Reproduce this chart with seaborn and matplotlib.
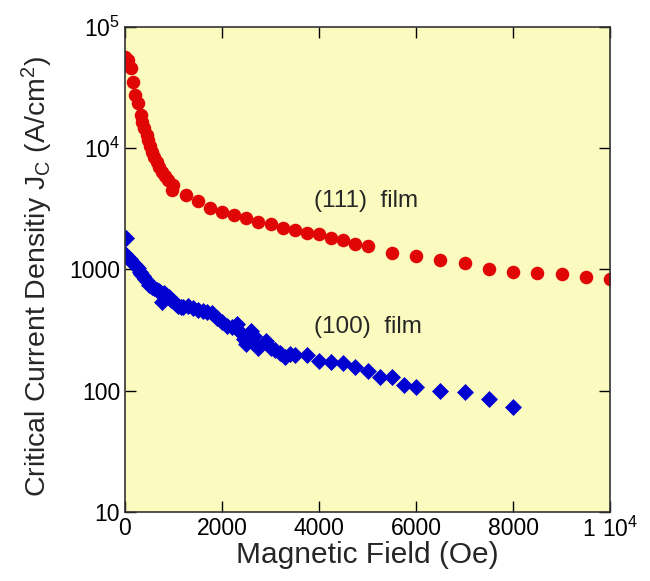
import matplotlib
matplotlib.use("Agg")
import matplotlib.pyplot as plt
import seaborn as sns
import pandas as pd

# (111) film
field_111 = [0, 70, 115, 160, 205, 275, 325, 355, 400, 445, 480, 515, 565, 605, 655, 705, 765, 825, 895, 995, 965,
             1250, 1500, 1750, 2000, 2250, 2500, 2750, 3000, 3250, 3500, 3750, 4000, 4250, 4500, 4750, 5000,
             5500, 6000, 6500, 7000, 7500, 8000, 8500, 9000, 9500, 10000]
jc_111 = [56900, 53400, 45600, 34900, 27400, 23700, 18700, 16500, 14600, 12800, 11600, 10400, 9300, 8470, 7700,
          7000, 6370, 5870, 5440, 4950, 4500,
          4090, 3660, 3230, 2980, 2790, 2640, 2460, 2355, 2212, 2128, 2010, 1946, 1815, 1737, 1610, 1560,
          1374, 1281, 1187, 1127, 1019, 962, 931, 920, 875, 838]

# (100) film
field_100 = [20, 0, 30, 60, 100, 140, 180, 220, 260, 300, 340, 380, 420, 460, 500, 550, 600, 650, 700, 750, 760,
             800, 850, 900, 950, 1000, 1050, 1100, 1150, 1200, 1300, 1400, 1500, 1600, 1700, 1800, 1900, 2000,
             2100, 2200, 2300, 2400, 2450, 2500, 2600, 2650, 2750, 2900, 3000, 3100, 3200, 3300, 3400, 3500,
             3750, 4000, 4250, 4500, 4750, 5000, 5250, 5500, 5750, 6000, 6500, 7000, 7500, 8000]
jc_100 = [1828, 1349, 1300, 1250, 1225, 1160, 1110, 1070, 1020, 960, 920, 880, 835, 800, 750, 720, 700, 680, 660,
          640, 540, 645, 620, 590, 560, 550, 520, 500, 490, 495, 500, 485, 465, 455, 445, 440, 400, 370,
          345, 335, 355, 300, 265, 245, 310, 285, 225, 255, 225, 215, 205, 190, 200, 197,
          197, 177, 171, 169, 158, 146, 129, 129, 111, 108, 98.6, 98, 85, 73]

ytick_vals = [10, 100, 1000, 1e4, 1e5]
ytick_text = ["10", "100", "1000", "$10^4$", "$10^5$"]
xtick_vals = [0, 2000, 4000, 6000, 8000, 10000]
xtick_text = ["0", "2000", "4000", "6000", "8000", "$1\\ 10^4$"]

sns.set_style("ticks")
plt.rcParams["font.family"] = ["Liberation Sans", "DejaVu Sans"]
plt.rcParams["mathtext.fontset"] = "custom"
plt.rcParams["mathtext.rm"] = "Liberation Sans"
plt.rcParams["mathtext.default"] = "regular"

df111 = pd.DataFrame({"field": field_111, "jc": jc_111})
df100 = pd.DataFrame({"field": field_100, "jc": jc_100})

fig = plt.figure(figsize=(6.5, 5.81), dpi=100)
ax = fig.add_axes([0.1923, 0.1188, 0.7462, 0.8347])
ax.set_facecolor("#fbfbc0")

sns.scatterplot(data=df111, x="field", y="jc", ax=ax, marker="o", s=95, color="#e00606", linewidth=0)
sns.scatterplot(data=df100, x="field", y="jc", ax=ax, marker="D", s=75, color="#0000d0", linewidth=0)

ax.set_yscale("log")
ax.set_xlim(0, 10000)
ax.set_ylim(10, 1e5)
ax.set_yticks(ytick_vals)
ax.set_yticklabels(ytick_text)
ax.set_xticks(xtick_vals)
ax.set_xticklabels(xtick_text)
ax.minorticks_off()
ax.tick_params(direction="in", length=8, width=1, top=True, right=True, labelsize=16.5, colors="black")
for sp in ax.spines.values():
    sp.set_color("#333333")
    sp.set_linewidth(1.2)

ax.set_xlabel("Magnetic Field (Oe)", fontsize=21.5, labelpad=-1)
ax.set_ylabel("Critical Current Densitiy J$_C$ (A/cm$^2$)", fontsize=20.5)
ax.yaxis.set_label_coords(-0.145, 0.485)

ax.text(3900, 3700, "(111)  film", fontsize=17.5, ha="left", va="center")
ax.text(3900, 335, "(100)  film", fontsize=17.5, ha="left", va="center")

fig.savefig("out.png", dpi=100)
